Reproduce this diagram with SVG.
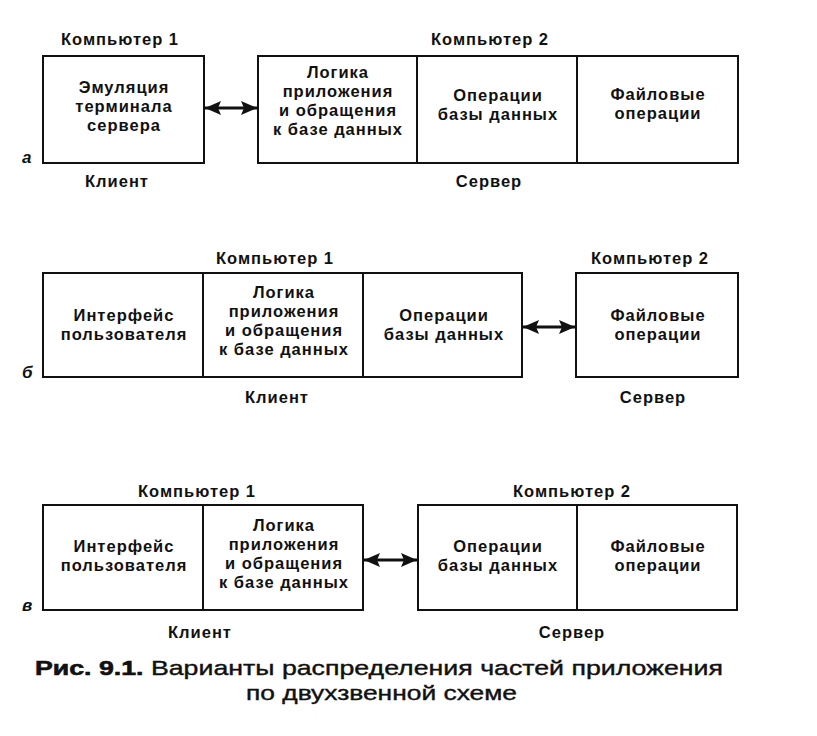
<svg xmlns="http://www.w3.org/2000/svg" width="817" height="736" viewBox="0 0 817 736">
<defs>
<marker id="ah" viewBox="0 0 16 14" refX="16" refY="7" markerWidth="16" markerHeight="14" markerUnits="userSpaceOnUse" orient="auto-start-reverse">
<path d="M0,0 L16,7 L0,14 L3,7 Z" fill="#111"/>
</marker>
<style>
.box{fill:#fff;stroke:#111;stroke-width:2}
.div{stroke:#111;stroke-width:2}
.t{font-family:"Liberation Sans",Arial,sans-serif;font-weight:bold;font-size:16.5px;letter-spacing:1px;fill:#111;text-anchor:middle}
.lab{font-family:"Liberation Sans",Arial,sans-serif;font-weight:bold;font-style:italic;font-size:17px;fill:#111}
.con{stroke:#111;stroke-width:3;fill:none;marker-start:url(#ah);marker-end:url(#ah)}
.cap{font-family:"Liberation Sans",Arial,sans-serif;font-size:21px;fill:#111;stroke:#111;stroke-width:0.4}
</style>
</defs>
<rect width="817" height="736" fill="#fff"/>

<!-- Row a -->
<g id="a-client">
<text class="t" x="120" y="45">Компьютер 1</text>
<rect class="box" x="43" y="56" width="161" height="107"/>
<text class="t" x="124" y="93">Эмуляция</text>
<text class="t" x="124" y="112">терминала</text>
<text class="t" x="124" y="131">сервера</text>
<text class="t" x="117" y="187">Клиент</text>
</g>
<g id="a-server">
<text class="t" x="490" y="45">Компьютер 2</text>
<rect class="box" x="258" y="56" width="480" height="107"/>
<line class="div" x1="417" y1="56" x2="417" y2="163"/>
<line class="div" x1="577" y1="56" x2="577" y2="163"/>
<text class="t" x="338" y="78">Логика</text>
<text class="t" x="338" y="97">приложения</text>
<text class="t" x="338" y="116">и обращения</text>
<text class="t" x="338" y="135">к базе данных</text>
<text class="t" x="498" y="101">Операции</text>
<text class="t" x="498" y="120">базы данных</text>
<text class="t" x="658" y="100">Файловые</text>
<text class="t" x="658" y="119">операции</text>
<text class="t" x="489" y="187">Сервер</text>
</g>
<text class="lab" x="22" y="163">а</text>

<!-- Row b -->
<g id="b-client">
<text class="t" x="275" y="264">Компьютер 1</text>
<rect class="box" x="43" y="273" width="479" height="104"/>
<line class="div" x1="203" y1="273" x2="203" y2="377"/>
<line class="div" x1="363" y1="273" x2="363" y2="377"/>
<text class="t" x="124" y="321">Интерфейс</text>
<text class="t" x="124" y="340">пользователя</text>
<text class="t" x="284" y="298">Логика</text>
<text class="t" x="284" y="317">приложения</text>
<text class="t" x="284" y="336">и обращения</text>
<text class="t" x="284" y="355">к базе данных</text>
<text class="t" x="444" y="321">Операции</text>
<text class="t" x="444" y="340">базы данных</text>
<text class="t" x="277" y="403">Клиент</text>
</g>
<g id="b-server">
<text class="t" x="650" y="264">Компьютер 2</text>
<rect class="box" x="576" y="273" width="162" height="104"/>
<text class="t" x="658" y="321">Файловые</text>
<text class="t" x="658" y="340">операции</text>
<text class="t" x="653" y="403">Сервер</text>
</g>
<text class="lab" x="22" y="378">б</text>

<!-- Row c -->
<g id="c-client">
<text class="t" x="197" y="497">Компьютер 1</text>
<rect class="box" x="43" y="505" width="320" height="105"/>
<line class="div" x1="203" y1="505" x2="203" y2="610"/>
<text class="t" x="124" y="552">Интерфейс</text>
<text class="t" x="124" y="571">пользователя</text>
<text class="t" x="284" y="531">Логика</text>
<text class="t" x="284" y="550">приложения</text>
<text class="t" x="284" y="569">и обращения</text>
<text class="t" x="284" y="588">к базе данных</text>
<text class="t" x="200" y="638">Клиент</text>
</g>
<g id="c-server">
<text class="t" x="572" y="497">Компьютер 2</text>
<rect class="box" x="418" y="505" width="319" height="105"/>
<line class="div" x1="577" y1="505" x2="577" y2="610"/>
<text class="t" x="498" y="552">Операции</text>
<text class="t" x="498" y="571">базы данных</text>
<text class="t" x="658" y="552">Файловые</text>
<text class="t" x="658" y="571">операции</text>
<text class="t" x="572" y="638">Сервер</text>
</g>
<text class="lab" x="22" y="611">в</text>

<g id="connectors">
<line class="con" x1="205" y1="108" x2="257" y2="108"/>
<line class="con" x1="523" y1="327" x2="575" y2="327"/>
<line class="con" x1="364" y1="560" x2="417" y2="560"/>
</g>

<g id="caption">
<text class="cap" x="35" y="675" textLength="688" lengthAdjust="spacingAndGlyphs"><tspan font-weight="bold" stroke-width="0.6">Рис. 9.1.</tspan> Варианты распределения частей приложения</text>
<text class="cap" x="246" y="700" textLength="271" lengthAdjust="spacingAndGlyphs">по двухзвенной схеме</text>
</g>
</svg>
